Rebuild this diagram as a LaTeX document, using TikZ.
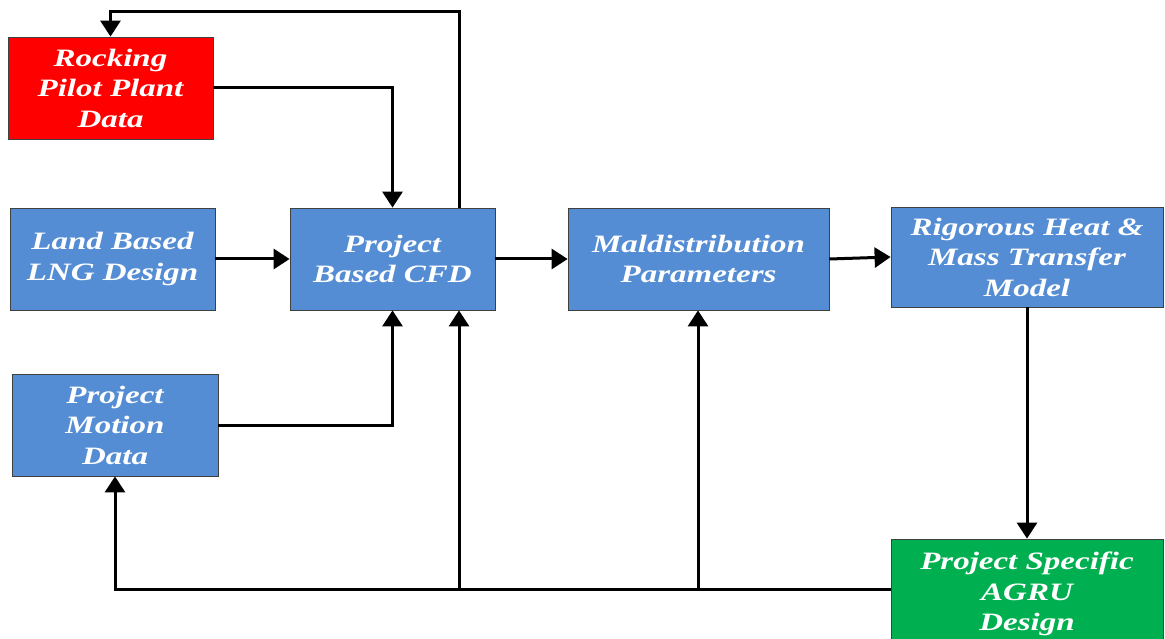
\documentclass[tikz,border=0pt]{standalone}
\usepackage{fontspec}
\setmainfont{Liberation Serif}[FakeStretch=1.32]
\usetikzlibrary{arrows.meta}
\definecolor{boxblue}{RGB}{84,141,212}
\definecolor{boxred}{RGB}{255,0,0}
\definecolor{boxgreen}{RGB}{0,176,80}
\begin{document}
\begin{tikzpicture}[x=1pt,y=-1pt,
  box/.style={draw=black!75, line width=0.8pt, fill=boxblue, text=white,
    font=\bfseries\itshape\fontsize{25}{30.5}\selectfont, align=center,
    inner sep=0pt, minimum height=102pt},
  conn/.style={line width=3pt, draw=black},
  arr/.style={conn, -{Triangle[width=20pt,length=16pt]}}]
\clip (0,0) rectangle (1165,639);
\fill[white] (0,0) rectangle (1165,639);
\node[box, fill=boxred, minimum width=205pt] (rock) at (110.5,88) {Rocking\\Pilot Plant\\Data};
\node[box, minimum width=205pt] (land) at (112.5,259) {Land Based\\LNG Design};
\node[box, minimum width=205pt] (cfd) at (392.5,259) {Project\\Based CFD};
\node[box, minimum width=261pt] (mal) at (698.5,259) {Maldistribution\\Parameters};
\node[box, minimum width=272pt, minimum height=100pt] (rig) at (1027,257) {Rigorous Heat \&\\Mass Transfer\\Model};
\node[box, minimum width=206pt] (mot) at (115,425) {Project\\Motion\\Data};
\node[box, fill=boxgreen, minimum width=272pt, minimum height=110pt] (agru) at (1027,594) {Project Specific\\AGRU\\Design};
\coordinate (top) at (459,12);
\coordinate (j1) at (459,589);
\coordinate (j2) at (698,589);
\draw[arr] (top |- cfd.north) -- (top) -| (rock.north);
\draw[arr] (rock.east) -| (cfd.north);
\draw[arr] (land) -- (cfd);
\draw[arr] (cfd) -- (mal);
\draw[arr] (mal.east) -- (rig.west);
\draw[arr] (rig.south) -- (agru.north);
\draw[arr] (agru.west |- j1) -| (mot.south);
\draw[arr] (j1) -- (j1 |- cfd.south);
\draw[arr] (j2) -- (j2 |- mal.south);
\draw[arr] (mot.east) -| (cfd.south);
\end{tikzpicture}
\end{document}
